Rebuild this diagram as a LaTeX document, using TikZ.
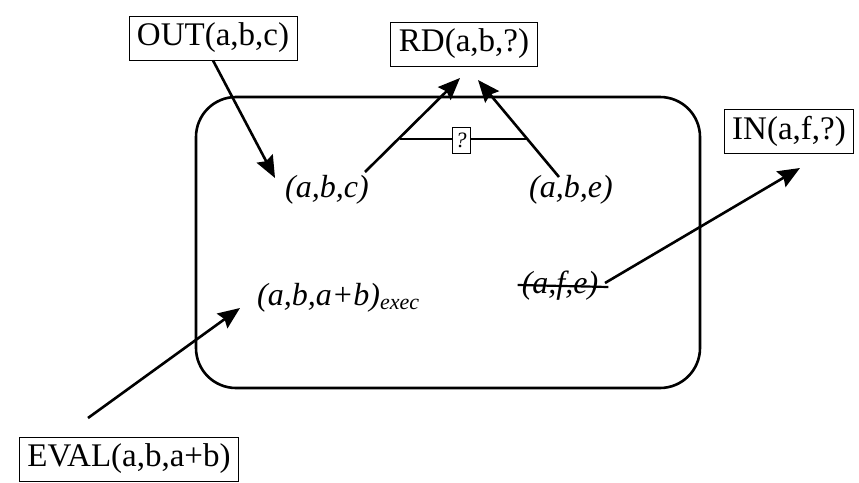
\documentclass[tikz,border=0pt]{standalone}
\usepackage{fontspec}
\setmainfont{Liberation Serif}
\usetikzlibrary{arrows.meta}
\tikzset{
  lbl/.style={draw, line width=0.9pt, inner xsep=8pt, minimum height=44pt, font=\fontsize{33}{38}\selectfont},
  tup/.style={inner sep=2pt, font=\fontsize{32}{36}\selectfont\itshape},
  arr/.style={line width=2.6pt, -{Stealth[length=22pt,width=18pt,inset=3pt]}},
  thin/.style={line width=2.2pt}
}
\begin{document}
\begin{tikzpicture}[x=1pt,y=-1pt]
\useasboundingbox (0,0) rectangle (859,482);
\draw[line width=2.6pt, rounded corners=40pt] (196,97) rectangle (700,388);
\node[lbl] (out) at (213,38) {OUT(a,b,c)};
\node[lbl] (rd) at (464,44) {RD(a,b,?)};
\node[lbl] (in) at (789,131) {IN(a,f,?)};
\node[lbl] (eval) at (129,459) {EVAL(a,b,a+b)};
\node[tup] (abc) at (327,190) {(a,b,c)};
\node[tup] (abe) at (571,190) {(a,b,e)};
\node[tup, anchor=west] (abab) at (255,298) {(a,b,a+b)\textsubscript{\fontsize{22}{24}\selectfont exec}};
\node[tup] (afe) at (560,286) {(a,f,e)};
\draw[thin] (afe.west) ++(-2,-1) -- ([xshift=8pt,yshift=-1pt]afe.east);
\coordinate (rdl) at (460,78);
\coordinate (rdr) at (478,80);
\coordinate (abcs) at (365,172);
\coordinate (abes) at (559,177);
\coordinate (qa) at (400,139);
\coordinate (qb) at (527,139);
\coordinate (ins) at (800,168);
\coordinate (afes) at (605,283);
\coordinate (evs) at (88,418);
\coordinate (evt) at (240,308);
\coordinate (abct) at (275,178);
\draw[thin] (qa) -- (qb);
\node[draw, fill=white, line width=0.9pt, inner sep=2pt, minimum width=18pt, minimum height=26pt, font=\fontsize{22}{24}\selectfont\itshape] (q) at (461,140) {?};
\draw[arr] (out.south) -- (abct);
\draw[arr] (abcs) -- (rdl);
\draw[arr] (abes) -- (rdr);
\draw[arr] (afes) -- (ins);
\draw[arr] (evs) -- (evt);
\end{tikzpicture}
\end{document}
